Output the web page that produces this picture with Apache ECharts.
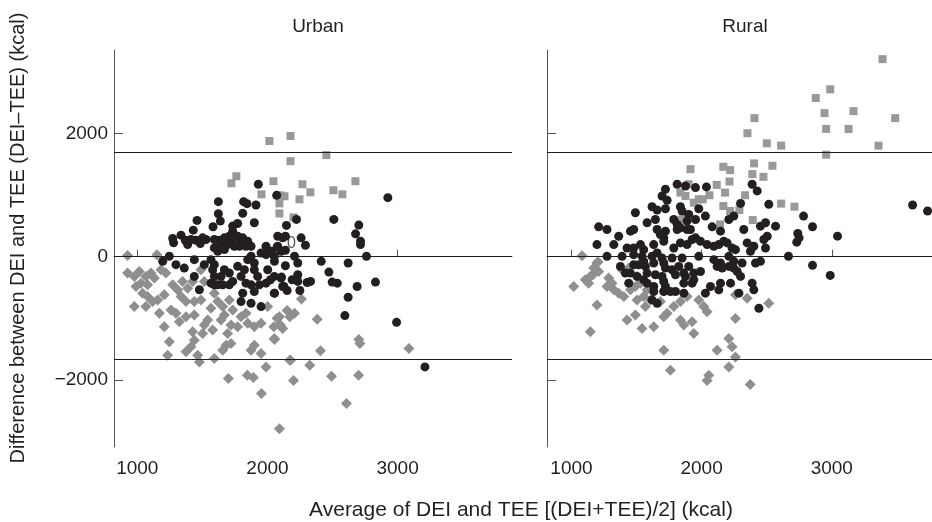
<!DOCTYPE html>
<html>
<head>
<meta charset="utf-8">
<script src="https://cdn.jsdelivr.net/npm/echarts@6/dist/echarts.min.js"></script>
<style>
  html, body { margin: 0; padding: 0; background: #fff; }
  #main { width: 932px; height: 522px; }
</style>
</head>
<body>
<div id="main"></div>
<script>
// panel titles and axis tick values
var panels = ["Urban", "Rural"];
var xTicks = [1000, 2000, 3000];
var yTicks = [-2000, 0, 2000];
// mean and limits of agreement
var refLines = [1695, 0, -1660];

// [average, difference] pairs, kcal
var urbanPlausible = [
  [1930, 1176], [2071, 996], [1623, 893], [1817, 893], [1843, 860], [1912, 839], [1623, 697], [1810, 703],
  [1638, 577], [1459, 588], [1899, 550], [1771, 539], [1733, 496], [1582, 485], [1430, 430], [1733, 414],
  [1336, 349], [1272, 294], [1279, 224], [1369, 267], [1387, 196], [1412, 278], [1502, 305], [1484, 213],
  [1528, 278], [1451, 267], [1592, 278], [1630, 267], [1669, 305], [1707, 332], [1733, 278], [1643, 196],
  [1694, 196], [1592, 142], [1669, 115], [1618, 87], [1771, 332], [1810, 305], [1848, 251], [1835, 169],
  [1874, 169], [1784, 169], [1797, 251], [1746, 169], [1989, 169], [2079, 169], [2117, 305], [2028, 87],
  [2105, 87], [1989, 33], [2053, 6], [1951, 60], [1195, -76], [1246, 6], [1297, -130], [1361, -185],
  [1438, -49], [1515, -130], [1438, -321], [1477, -538], [1566, -49], [1592, -130], [1579, -212], [1592, -321],
  [1643, -321], [1566, -430], [1592, -457], [1669, -212], [1707, -266], [1733, -402], [1707, -457], [1771, -157],
  [1797, -321], [1823, -212], [1848, -49], [1874, 6], [1899, -103], [1899, -212], [1925, -321], [1874, -457],
  [1835, -430], [1874, -756], [1951, -811], [1797, -729], [1810, -593], [1899, -566], [2053, -593], [2053, -321],
  [2105, -348], [2117, -484], [2002, -212], [1989, -430], [1938, -457], [1618, -457], [1656, -457],
  [2925, 958], [2223, 605], [2510, 605], [2146, 507], [2702, 512], [2079, 332], [2138, 332], [2259, 305],
  [2677, 370], [2715, 251], [2715, 196], [2074, 158], [2138, 104], [2292, 185], [2036, 49], [2208, 6],
  [2761, 6], [2054, -76], [2138, -147], [2233, -103], [2413, -76], [2620, -103], [2472, -250], [2023, -375],
  [2108, -332], [2190, -375], [2233, -294], [2233, -402], [2126, -484], [2151, -549], [2249, -549], [2305, -419],
  [2331, -402], [2497, -413], [2536, -430], [2689, -484], [2830, -413], [2054, -593], [2620, -658], [2595, -957],
  [2992, -1066], [3210, -1790]
];
var urbanOver = [
  [1761, 1306], [1723, 1192], [2015, 1878], [2177, 1960], [2177, 1551], [2046, 1225], [1954, 1012], [2100, 996],
  [2131, 980], [2092, 865], [2092, 702], [2200, 637], [2269, 1176], [2246, 931], [2453, 1649], [2330, 1045],
  [2507, 1078], [2576, 1012], [2676, 1225]
];
var urbanUnder = [
  [925, 17], [1151, 33], [925, -266], [977, -321], [1015, -239], [1066, -321], [1105, -266], [1131, -348],
  [1182, -212], [1220, -266], [1028, -430], [1079, -457], [990, -484], [1041, -593], [1079, -647], [977, -811],
  [1066, -811], [1118, -729], [1156, -702], [1207, -620], [1272, -457], [1310, -538], [1348, -402], [1387, -511],
  [1425, -402], [1336, -647], [1374, -729], [1438, -729], [1489, -702], [1259, -865], [1297, -920], [1169, -920],
  [1207, -1137], [1323, -1056], [1374, -974], [1438, -947], [1489, -212], [1515, -402], [1592, -593], [1618, -729],
  [1656, -811], [1707, -702], [1733, -865], [1669, -947], [1643, -1028], [1720, -1110], [1694, -1246], [1771, -1137],
  [1797, -974], [1835, -920], [1515, -1110], [1579, -1192], [1502, -1246], [1425, -1219], [1438, -1355], [1374, -1545],
  [1412, -1464], [1464, -1600], [1246, -1382], [1233, -1600], [1477, -1709], [1592, -1654], [1682, -1437], [1656, -1518],
  [1720, -1409], [1874, -1518], [1899, -1437], [1951, -1573], [1989, -1790], [1541, -1028], [1566, -838], [1848, -1083],
  [1899, -1137], [1951, -1083], [2002, -811], [2053, -1328], [2092, -974], [2092, -1110], [2117, -1165],
  [1700, -1976], [1846, -1927], [1892, -1960], [1954, -2221], [2092, -2792], [2200, -2009], [2177, -1682],
  [2261, -686], [2151, -876], [2208, -920], [2172, -974], [2074, -1001], [2100, -1110], [2049, -1137], [2054, -1344],
  [2382, -1018], [2407, -1529], [2702, -1344], [2710, -1410], [3087, -1491], [2172, -1682], [2325, -1763],
  [2700, -1927], [2607, -2384], [2492, -1943]
];

var ruralPlausible = [
  [1812, 1176], [1876, 1148], [1953, 1121], [2037, 1132], [1722, 1094], [1696, 985], [1735, 914], [2427, 1067],
  [2388, 1176], [2299, 865], [2516, 849], [1491, 713], [1619, 811], [1658, 757], [1722, 778], [1837, 811],
  [1850, 740], [1901, 686], [1978, 778], [2029, 659], [1953, 604], [1645, 604], [1581, 550], [1786, 604],
  [1888, 577], [1812, 522], [1209, 484], [1273, 441], [1363, 332], [1453, 414], [1478, 441], [1658, 441],
  [1683, 359], [1709, 305], [1722, 414], [1812, 441], [1837, 468], [1888, 441], [1914, 441], [2081, 484],
  [2145, 414], [2209, 604], [2247, 659], [2324, 441], [2452, 495], [2491, 550], [2568, 495], [2504, 332],
  [2478, 278], [1196, 196], [1325, 196], [1427, 141], [1478, 141], [1555, 114], [1530, 196], [1632, 196],
  [1709, 250], [1786, 141], [1837, 223], [1888, 196], [1927, 278], [1953, 305], [1991, 250], [2042, 196],
  [2094, 169], [2132, 196], [2170, 250], [2196, 223], [2234, 141], [2260, 114], [2350, 223], [2401, 169],
  [2375, 87], [2491, 141], [1273, 5], [1389, 5], [1478, 33], [1542, 5], [1555, -76], [1619, 5],
  [1658, 60], [1696, -22], [1773, -22], [1850, -22], [1978, 5], [2094, -49], [2145, -103], [2209, 5],
  [2247, -76], [2311, -103], [2414, -103], [2452, -76], [1376, -158], [1414, -267], [1478, -131], [1517, -131],
  [1568, -158], [1581, -267], [1632, -103], [1709, -103], [1722, -185], [1773, -212], [1824, -158], [1901, -158],
  [1940, -267], [1991, -240], [2119, -158], [2158, -185], [2209, -158], [2247, -185], [2273, -240], [2299, -321],
  [1453, -267], [1504, -321], [1555, -376], [1645, -294], [1696, -321], [1799, -294], [1863, -267], [1876, -321],
  [1940, -376], [1440, -430], [1581, -430], [1632, -485], [1709, -403], [1722, -485], [1863, -430], [1927, -430],
  [2068, -485], [2145, -430], [2222, -430], [2388, -430], [1632, -566], [1709, -566], [1760, -566], [1799, -566],
  [1863, -593], [2029, -593], [2132, -539], [2286, -593], [2401, -539], [1619, -702], [1658, -757], [2440, -838],
  [2783, 659], [2852, 485], [2739, 376], [2749, 305], [2731, 235], [3044, 333], [2667, 6], [2852, -141],
  [2988, -304], [3621, 839], [3736, 741]
];
var ruralOver = [
  [3390, 3207], [2988, 2717], [2877, 2575], [3167, 2363], [2944, 2330], [2406, 2249], [3487, 2249], [2352, 2004],
  [2957, 2074], [3129, 2074], [2501, 1840], [2611, 1802], [3359, 1802], [2957, 1655], [2403, 1514], [2544, 1476],
  [2167, 1459], [2219, 1405], [2390, 1340], [2475, 1296], [2214, 1220], [2116, 1165], [2180, 1040], [2334, 997],
  [2060, 997], [2008, 931], [2611, 861], [2713, 812], [2167, 822], [2219, 741], [2290, 757], [2393, 594],
  [2142, 523], [1914, 1421], [1900, 1176], [1837, 1040], [1876, 985], [1940, 876], [1978, 931], [1850, 604]
];
var ruralUnder = [
  [1081, 16], [1196, -103], [1171, -185], [1209, -240], [1145, -321], [1017, -485], [1107, -376], [1132, -430],
  [1286, -348], [1312, -430], [1273, -485], [1325, -539], [1363, -593], [1402, -648], [1453, -539], [1491, -485],
  [1389, -212], [1440, -185], [1504, -321], [1530, -430], [1581, -539], [1555, -648], [1504, -702], [1568, -811],
  [1607, -702], [1196, -784], [1427, -1029], [1491, -947], [1542, -1165], [1632, -1138], [1145, -1219], [1683, -729],
  [1735, -920], [1786, -811], [1837, -729], [1888, -648], [1978, -702], [2017, -811], [2042, -893], [1837, -1029],
  [1863, -1110], [1927, -1056], [1940, -1247], [1709, -974], [2260, -620], [2350, -675], [2516, -757], [2260, -1002],
  [2209, -1328], [2234, -1464], [2260, -1628], [2209, -1791], [2119, -1519], [2055, -1927], [2042, -2009], [1760, -1845],
  [1709, -1519], [1204, -82], [1165, -294], [2373, -2074]
];

var ink = "#231f20";
var grey = "#8f8f8f";
var font = "Liberation Sans";

var myChart = echarts.init(document.getElementById("main"));

function xAxisFor(idx, min, max) {
  return {
    type: "value", gridIndex: idx, min: min, max: max,
    splitLine: { show: false },
    axisLine: { lineStyle: { color: "#555", width: 1 } },
    axisTick: { inside: true, length: 7, customValues: xTicks, lineStyle: { color: "#555" } },
    axisLabel: {
      customValues: xTicks, color: ink, fontSize: 19, fontFamily: font, margin: 12,
      formatter: function (v) { return String(v); }
    }
  };
}

function yAxisFor(idx, showLabels) {
  return {
    type: "value", gridIndex: idx, min: -3090, max: 3355,
    splitLine: { show: false },
    axisLine: { show: true, lineStyle: { color: "#555", width: 1 } },
    axisTick: { show: true, inside: true, length: 9, customValues: yTicks, lineStyle: { color: "#555" } },
    axisLabel: {
      show: showLabels, customValues: yTicks, color: ink, fontSize: 19, fontFamily: font, margin: 6,
      formatter: function (v) { return v < 0 ? "\u2212" + Math.abs(v) : String(v); }
    }
  };
}

function scatter(idx, data, symbol, size, color, withLines) {
  var s = {
    type: "scatter", xAxisIndex: idx, yAxisIndex: idx,
    symbol: symbol, symbolSize: size, data: data,
    itemStyle: { color: color, opacity: 1 },
    silent: true
  };
  if (withLines) {
    s.markLine = {
      silent: true, symbol: "none", label: { show: false },
      lineStyle: { color: ink, width: 1, type: "solid" },
      data: refLines.map(function (v) { return { yAxis: v }; })
    };
  }
  return s;
}

var option = {
  animation: false,
  backgroundColor: "#fff",
  title: [
    { text: panels[0], left: 313, top: 12, textAlign: "center", textStyle: { color: ink, fontSize: 19, fontWeight: "normal", fontFamily: font } },
    { text: panels[1], left: 740, top: 12, textAlign: "center", textStyle: { color: ink, fontSize: 19, fontWeight: "normal", fontFamily: font } }
  ],
  grid: [
    { left: 114, top: 50, width: 398, height: 397 },
    { left: 547, top: 50, width: 385, height: 397 }
  ],
  xAxis: [xAxisFor(0, 821, 3879), xAxisFor(1, 812, 3770)],
  yAxis: [yAxisFor(0, true), yAxisFor(1, false)],
  series: [
    scatter(0, urbanUnder, "diamond", 11, grey, true),
    scatter(0, urbanOver, "rect", 8, "#999999", false),
    scatter(0, urbanPlausible, "circle", 9, ink, false),
    scatter(1, ruralUnder, "diamond", 11, grey, true),
    scatter(1, ruralOver, "rect", 8, "#999999", false),
    scatter(1, ruralPlausible, "circle", 9, ink, false)
  ],
  graphic: [
    {
      type: "text", x: 521, y: 510,
      style: { text: "Average of DEI and TEE [(DEI+TEE)/2] (kcal)", fill: ink, fontSize: 21, fontFamily: font, textAlign: "center", textVerticalAlign: "middle" }
    },
    {
      type: "text", x: 18, y: 238, rotation: Math.PI / 2,
      style: { text: "Difference between DEI and TEE (DEI\u2013TEE) (kcal)", fill: ink, fontSize: 20, fontFamily: font, textAlign: "center", textVerticalAlign: "middle" }
    },
    {
      type: "text", x: 287, y: 236,
      style: { text: "0", fill: "#555", fontSize: 16, fontFamily: font }
    }
  ]
};

myChart.setOption(option);
</script>
</body>
</html>
